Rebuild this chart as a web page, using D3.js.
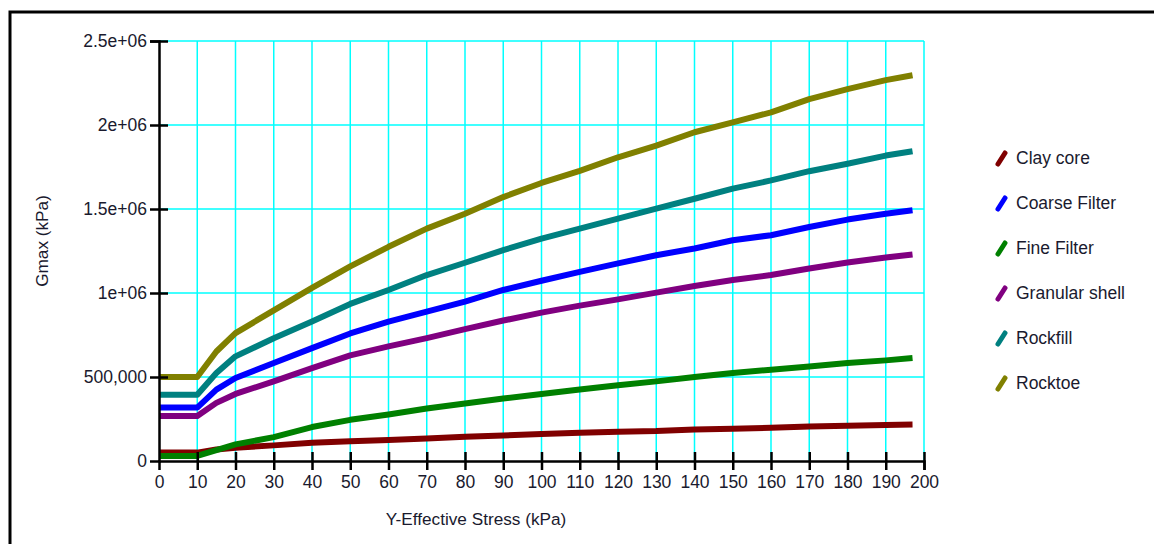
<!DOCTYPE html>
<html>
<head>
<meta charset="utf-8">
<script src="https://cdn.jsdelivr.net/npm/d3@7"></script>
<style>
  html, body { margin: 0; padding: 0; background: #fff; }
  svg { display: block; }
  text { font-family: "Liberation Sans", Arial, sans-serif; fill: #1a1a2e; }
</style>
</head>
<body>
<svg id="chart" width="1154" height="544"></svg>
<script>
// ---- data (values in kPa) ----
const stress = [0, 10, 15, 20, 30, 40, 50, 60, 70, 80, 90, 100, 110, 120, 130, 140, 150, 160, 170, 180, 190, 197];
const seriesNames = ["Clay core", "Coarse Filter", "Fine Filter", "Granular shell", "Rockfill", "Rocktoe"];
const seriesColors = ["#800000", "#0000ff", "#008000", "#800080", "#008080", "#808000"];
const clayCore      = [50000, 50000, 69000, 79000, 93000, 109000, 117000, 125000, 134000, 144000, 152000, 160000, 168000, 174000, 178000, 188000, 192000, 198000, 206000, 210000, 215000, 217000];
const coarseFilter  = [318000, 318000, 425000, 494000, 583000, 672000, 759000, 830000, 889000, 949000, 1018000, 1073000, 1126000, 1176000, 1225000, 1265000, 1314000, 1344000, 1393000, 1437000, 1472000, 1492000];
const fineFilter    = [30000, 30000, 65000, 99000, 142000, 202000, 245000, 277000, 312000, 342000, 372000, 399000, 425000, 451000, 474000, 500000, 524000, 543000, 563000, 583000, 599000, 613000];
const granularShell = [268000, 268000, 346000, 399000, 474000, 553000, 629000, 682000, 731000, 785000, 836000, 883000, 925000, 962000, 1002000, 1042000, 1077000, 1107000, 1146000, 1182000, 1211000, 1229000];
const rockfill      = [395000, 395000, 524000, 623000, 731000, 830000, 935000, 1018000, 1107000, 1180000, 1255000, 1324000, 1383000, 1443000, 1502000, 1561000, 1621000, 1670000, 1725000, 1769000, 1818000, 1844000];
const rocktoe       = [500000, 500000, 652000, 761000, 897000, 1031000, 1158000, 1275000, 1383000, 1472000, 1571000, 1655000, 1727000, 1808000, 1877000, 1957000, 2016000, 2075000, 2154000, 2213000, 2267000, 2296000];
const seriesValues = [clayCore, coarseFilter, fineFilter, granularShell, rockfill, rocktoe];
const xTicks = [0, 10, 20, 30, 40, 50, 60, 70, 80, 90, 100, 110, 120, 130, 140, 150, 160, 170, 180, 190, 200];
const yTicks = [0, 500000, 1000000, 1500000, 2000000, 2500000];
const yTickLabels = ["0", "500,000", "1e+06", "1.5e+06", "2e+06", "2.5e+06"];
const xTitle = "Y-Effective Stress (kPa)";
const yTitle = "Gmax (kPa)";

// ---- layout ----
const svg = d3.select("#chart");
const x = d3.scaleLinear().domain([0, 200]).range([159, 924]);
const y = d3.scaleLinear().domain([0, 2500000]).range([461, 41]);
const FS = 17.5;

// outer frame
svg.append("rect").attr("x", 10).attr("y", 12).attr("width", 1170).attr("height", 600)
  .attr("fill", "none").attr("stroke", "#000").attr("stroke-width", 3);

// grid
const grid = svg.append("g");
grid.selectAll("line.v").data(xTicks.slice(1)).join("line")
  .attr("x1", d => x(d)).attr("x2", d => x(d)).attr("y1", y(0)).attr("y2", y(2500000))
  .attr("stroke", "#00ffff").attr("stroke-width", 1.5);
grid.selectAll("line.h").data(yTicks.slice(1)).join("line")
  .attr("x1", x(0)).attr("x2", x(200)).attr("y1", d => y(d)).attr("y2", d => y(d))
  .attr("stroke", "#00ffff").attr("stroke-width", 1.5);

// series
const line = d3.line().x((d, i) => x(stress[i])).y(d => y(d));
seriesValues.forEach((vals, k) => {
  svg.append("path").datum(vals).attr("d", line)
    .attr("fill", "none").attr("stroke", seriesColors[k]).attr("stroke-width", 6)
    .attr("stroke-linejoin", "round").attr("stroke-linecap", "butt");
});

// axes
const xAxis = svg.append("g").attr("transform", `translate(0,${y(0)})`)
  .call(d3.axisBottom(x).tickValues(xTicks).tickSizeOuter(0).tickSize(9).tickPadding(6).tickFormat(d3.format("d")));
xAxis.select(".domain").attr("stroke", "#000").attr("stroke-width", 2.5);
xAxis.selectAll(".tick line").attr("y1", -9).attr("y2", 9).attr("stroke", "#000").attr("stroke-width", 2.5)
  .filter(d => d === 0).remove();
xAxis.selectAll(".tick text").attr("font-size", FS).attr("y", 15).attr("dy", "0.71em")
  .attr("font-family", "Liberation Sans, Arial, sans-serif").attr("fill", "#1a1a2e");

const yAxis = svg.append("g").attr("transform", `translate(${x(0)},0)`)
  .call(d3.axisLeft(y).tickValues(yTicks).tickSizeOuter(0).tickSize(9).tickPadding(4)
    .tickFormat((d, i) => yTickLabels[i]));
yAxis.select(".domain").attr("stroke", "#000").attr("stroke-width", 2.5);
yAxis.selectAll(".tick line").attr("x1", -9).attr("x2", 9).attr("stroke", "#000").attr("stroke-width", 2.5)
  .filter(d => d === 0).remove();
yAxis.selectAll(".tick text").attr("font-size", FS).attr("x", -12)
  .attr("font-family", "Liberation Sans, Arial, sans-serif").attr("fill", "#1a1a2e");

// axis titles
svg.append("text").attr("x", 476).attr("y", 525).attr("text-anchor", "middle")
  .attr("font-size", 17.2).text(xTitle);
svg.append("text").attr("transform", "translate(48,241) rotate(-90)").attr("text-anchor", "middle")
  .attr("font-size", 17.2).text(yTitle);

// legend
const legend = svg.append("g");
seriesNames.forEach((name, k) => {
  const yy = 164 + k * 45;
  legend.append("line").attr("x1", 998).attr("y1", yy).attr("x2", 1005).attr("y2", yy - 11)
    .attr("stroke", seriesColors[k]).attr("stroke-width", 5).attr("stroke-linecap", "round");
  legend.append("text").attr("x", 1016).attr("y", yy).attr("font-size", FS).text(name);
});
</script>
</body>
</html>
